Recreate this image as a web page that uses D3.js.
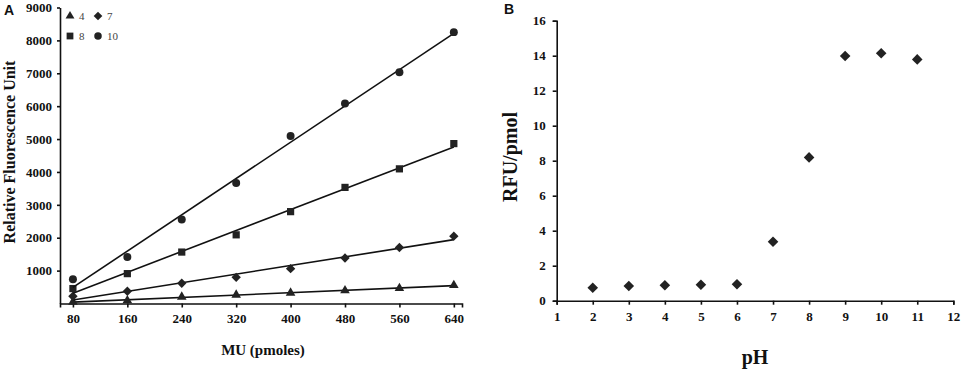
<!DOCTYPE html>
<html>
<head>
<meta charset="utf-8">
<script src="https://cdn.jsdelivr.net/npm/d3@7"></script>
<style>
  body { margin: 0; background: #fff; }
  svg { display: block; }
</style>
</head>
<body>
<div id="chart"></div>
<script>
// Panel A: MU amount vs fluorescence at four pH values
const muPmoles = [80, 160, 240, 320, 400, 480, 560, 640];
const ph4 = [50, 90, 200, 263, 323, 393, 463, 554];
const ph7 = [222, 373, 615, 796, 1059, 1383, 1704, 2048];
const ph8 = [454, 908, 1564, 2088, 2793, 3530, 4094, 4862];
const ph10 = [735, 1413, 2551, 3661, 5093, 6082, 7029, 8251];
const aYTicks = [1000, 2000, 3000, 4000, 5000, 6000, 7000, 8000, 9000];

// Panel B: RFU per pmol vs pH
const phValues = [2, 3, 4, 5, 6, 7, 8, 9, 10, 11];
const rfuPerPmol = [0.74, 0.84, 0.88, 0.91, 0.94, 3.37, 8.19, 13.98, 14.14, 13.79];
const bYTicks = [0, 2, 4, 6, 8, 10, 12, 14, 16];
const bXTicks = [1, 2, 3, 4, 5, 6, 7, 8, 9, 10, 11, 12];

// diamond drawn as a square turned 45 degrees
const diamond = {
    draw(context, size) {
        const r = Math.sqrt(size / 2);
        context.moveTo(0, -r);
        context.lineTo(r, 0);
        context.lineTo(0, r);
        context.lineTo(-r, 0);
        context.closePath();
    }
};

const series = [
    { label: '4', values: ph4, shape: d3.symbolTriangle, size: 40 },
    { label: '7', values: ph7, shape: diamond, size: 44 },
    { label: '8', values: ph8, shape: d3.symbolSquare, size: 52 },
    { label: '10', values: ph10, shape: d3.symbolCircle, size: 50 }
];

const serif = '"Liberation Serif", "Times New Roman", serif';
const sans = '"Liberation Sans", Arial, sans-serif';
const ink = '#111';

const svg = d3.select('#chart').append('svg')
    .attr('width', 964)
    .attr('height', 372);

// least squares fit for the trend lines
function linearFit(xs, ys) {
    const mx = d3.mean(xs), my = d3.mean(ys);
    let num = 0, den = 0;
    xs.forEach((x, i) => { num += (x - mx) * (ys[i] - my); den += (x - mx) * (x - mx); });
    const slope = num / den;
    return x => my + slope * (x - mx);
}

function styleAxis(g) {
    g.selectAll('.domain, .tick line').attr('stroke', ink).attr('stroke-width', 1.6);
    g.selectAll('.tick text')
        .attr('font-family', serif)
        .attr('font-weight', 'bold')
        .attr('font-size', 13)
        .attr('fill', ink);
}

// ---------- Panel A ----------
const xA = d3.scaleLinear().domain([61, 652]).range([60, 462]);
const yA = d3.scaleLinear().domain([0, 9000]).range([303.5, 7.5]);

const gA = svg.append('g');

gA.append('g')
    .attr('transform', `translate(0,${yA(0)})`)
    .call(d3.axisBottom(xA).tickValues(muPmoles).tickFormat(d3.format('d'))
        .tickSizeInner(4).tickSizeOuter(4).tickPadding(6))
    .call(styleAxis);

gA.append('g')
    .attr('transform', `translate(${xA.range()[0]},0)`)
    .call(d3.axisLeft(yA).tickValues(aYTicks).tickFormat(d3.format('d'))
        .tickSizeInner(3).tickSizeOuter(0).tickPadding(5))
    .call(styleAxis);

series.forEach(s => {
    const fit = linearFit(muPmoles, s.values);
    const ends = [muPmoles[0], muPmoles[muPmoles.length - 1]];
    gA.append('line')
        .attr('x1', xA(ends[0])).attr('y1', yA(fit(ends[0])))
        .attr('x2', xA(ends[1])).attr('y2', yA(fit(ends[1])))
        .attr('stroke', ink)
        .attr('stroke-width', 1.6);

    gA.selectAll(null)
        .data(s.values)
        .enter()
        .append('path')
        .attr('d', d3.symbol().type(s.shape).size(s.size))
        .attr('transform', (d, i) => `translate(${xA(muPmoles[i])},${yA(d)})`)
        .attr('fill', '#222');
});

// legend in the corner of panel A
const legend = gA.append('g').attr('transform', 'translate(70,16)');
series.forEach((s, i) => {
    const col = i % 2, row = Math.floor(i / 2);
    const item = legend.append('g').attr('transform', `translate(${col * 28},${row * 20})`);
    item.append('path')
        .attr('d', d3.symbol().type(s.shape).size(s.size - 6))
        .attr('fill', '#222');
    item.append('text')
        .attr('x', 9)
        .attr('y', 4)
        .attr('font-family', serif)
        .attr('font-size', 11)
        .attr('fill', '#444')
        .text(s.label);
});

gA.append('text')
    .attr('x', 263)
    .attr('y', 355)
    .attr('text-anchor', 'middle')
    .attr('font-family', serif)
    .attr('font-weight', 'bold')
    .attr('font-size', 15)
    .attr('fill', ink)
    .text('MU (pmoles)');

gA.append('text')
    .attr('transform', 'translate(15,152) rotate(-90)')
    .attr('text-anchor', 'middle')
    .attr('font-family', serif)
    .attr('font-weight', 'bold')
    .attr('font-size', 16)
    .attr('fill', ink)
    .text('Relative Fluorescence Unit');

gA.append('text')
    .attr('x', 4)
    .attr('y', 15)
    .attr('font-family', sans)
    .attr('font-weight', 'bold')
    .attr('font-size', 14)
    .attr('fill', ink)
    .text('A');

// ---------- Panel B ----------
const xB = d3.scaleLinear().domain([1, 12]).range([556.7, 953.3]);
const yB = d3.scaleLinear().domain([0, 16]).range([300.7, 20.7]);

const gB = svg.append('g');

gB.append('g')
    .attr('transform', `translate(0,${yB(0)})`)
    .call(d3.axisBottom(xB).tickValues(bXTicks).tickSizeInner(4).tickSizeOuter(4).tickPadding(7))
    .call(styleAxis);

gB.append('g')
    .attr('transform', `translate(${xB(1)},0)`)
    .call(d3.axisLeft(yB).tickValues(bYTicks).tickSizeInner(4).tickSizeOuter(4).tickPadding(7))
    .call(styleAxis);

gB.selectAll(null)
    .data(rfuPerPmol)
    .enter()
    .append('path')
    .attr('d', d3.symbol().type(diamond).size(56))
    .attr('transform', (d, i) => `translate(${xB(phValues[i])},${yB(d)})`)
    .attr('fill', '#222');

gB.append('text')
    .attr('x', 755)
    .attr('y', 364)
    .attr('text-anchor', 'middle')
    .attr('font-family', serif)
    .attr('font-weight', 'bold')
    .attr('font-size', 20)
    .attr('fill', ink)
    .text('pH');

gB.append('text')
    .attr('transform', 'translate(517,157) rotate(-90)')
    .attr('text-anchor', 'middle')
    .attr('font-family', serif)
    .attr('font-weight', 'bold')
    .attr('font-size', 20)
    .attr('fill', ink)
    .text('RFU/pmol');

gB.append('text')
    .attr('x', 504)
    .attr('y', 14)
    .attr('font-family', sans)
    .attr('font-weight', 'bold')
    .attr('font-size', 14)
    .attr('fill', ink)
    .text('B');
</script>
</body>
</html>
